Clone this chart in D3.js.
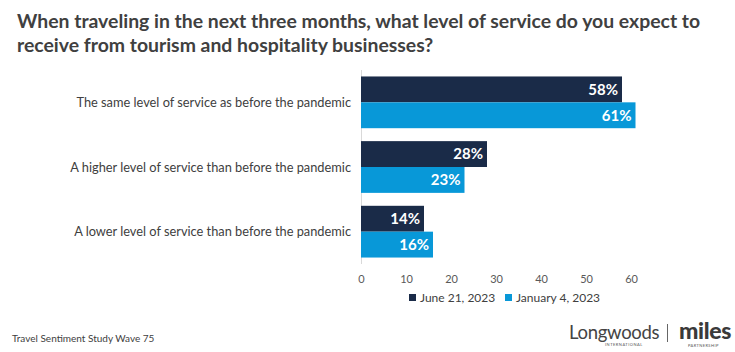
<!DOCTYPE html>
<html><head><meta charset="utf-8">
<script src="https://cdn.jsdelivr.net/npm/d3@7"></script>
<style>body{margin:0;background:#fff;} svg{display:block;font-family:Lato, "Open Sans", sans-serif;}</style>
</head><body><svg id="c" width="735" height="352"></svg>
<script>
const categories = ["The same level of service as before the pandemic","A higher level of service than before the pandemic","A lower level of service than before the pandemic"];
const seriesNames = ["June 21, 2023","January 4, 2023"];
const june2023 = [58,28,14];
const jan2023 = [61,23,16];
const xTicks = [0,10,20,30,40,50,60];
const colors = ["#1a2b48","#0898d8"];

const svg = d3.select("#c");
const title = ["When traveling in the next three months, what level of service do you expect to","receive from tourism and hospitality businesses?"];
svg.selectAll("text.title").data(title).join("text").attr("class","title")
  .attr("x",17).attr("y",(d,i)=>28+i*24).attr("font-size",19.4).attr("font-weight",700).attr("fill","#404040").text(d=>d);

const x = d3.scaleLinear().domain([0,60]).range([361,631]);
const y = d3.scaleBand().domain(categories).range([70,264]).paddingInner(0.2).paddingOuter(0.1);
const y2 = d3.scaleBand().domain(seriesNames).range([0,y.bandwidth()]);

svg.append("line").attr("x1",361.5).attr("x2",361.5).attr("y1",70).attr("y2",264).attr("stroke","#d9d9d9");

const series = [june2023, jan2023];
categories.forEach((c,ci)=>{
  series.forEach((s,si)=>{
    const yy = y(c)+y2(seriesNames[si]);
    svg.append("rect").attr("x",x(0)).attr("y",yy).attr("width",x(s[ci])-x(0)).attr("height",y2.bandwidth()).attr("fill",colors[si]);
    svg.append("text").attr("x",x(s[ci])-4).attr("y",yy+y2.bandwidth()/2).attr("dy","0.36em")
      .attr("text-anchor","end").attr("fill","#fff").attr("font-size",15).attr("font-weight",700).text(s[ci]+"%");
  });
  svg.append("text").attr("x",351).attr("y",y(c)+y.bandwidth()/2).attr("dy","0.36em").attr("text-anchor","end")
    .attr("font-size",12.8).attr("fill","#404040").text(c);
});

const ax = svg.append("g").attr("transform","translate(0,269)").call(d3.axisBottom(x).tickValues(xTicks).tickSize(0).tickPadding(6));
ax.select(".domain").remove();
ax.selectAll("text").attr("font-size",11).attr("fill","#595959").attr("font-family","Lato, sans-serif");

const leg = [{x:409,t:seriesNames[0],c:colors[0]},{x:505,t:seriesNames[1],c:colors[1]}];
leg.forEach(l=>{
  svg.append("rect").attr("x",l.x).attr("y",294).attr("width",7).attr("height",7).attr("fill",l.c);
  svg.append("text").attr("x",l.x+11).attr("y",302).attr("font-size",12).attr("fill","#404040").text(l.t);
});

svg.append("text").attr("x",12).attr("y",342).attr("font-size",10).attr("fill","#404040").text("Travel Sentiment Study Wave 75");
svg.append("text").attr("x",569).attr("y",339).attr("font-size",18.5).attr("fill","#444").attr("letter-spacing",-0.3).text("Longwoods");
svg.append("text").attr("x",605).attr("y",346).attr("font-size",4).attr("fill","#555").attr("letter-spacing",0.5).text("INTERNATIONAL");
svg.append("line").attr("x1",667.5).attr("x2",667.5).attr("y1",324).attr("y2",342).attr("stroke","#666");
svg.append("text").attr("x",679).attr("y",339).attr("font-size",23).attr("font-weight",900).attr("fill","#3a3a3a").attr("letter-spacing",-0.3).text("miles");
svg.append("text").attr("x",688).attr("y",346.5).attr("font-size",4).attr("fill","#555").attr("letter-spacing",0.4).text("PARTNERSHIP");
</script></body></html>
